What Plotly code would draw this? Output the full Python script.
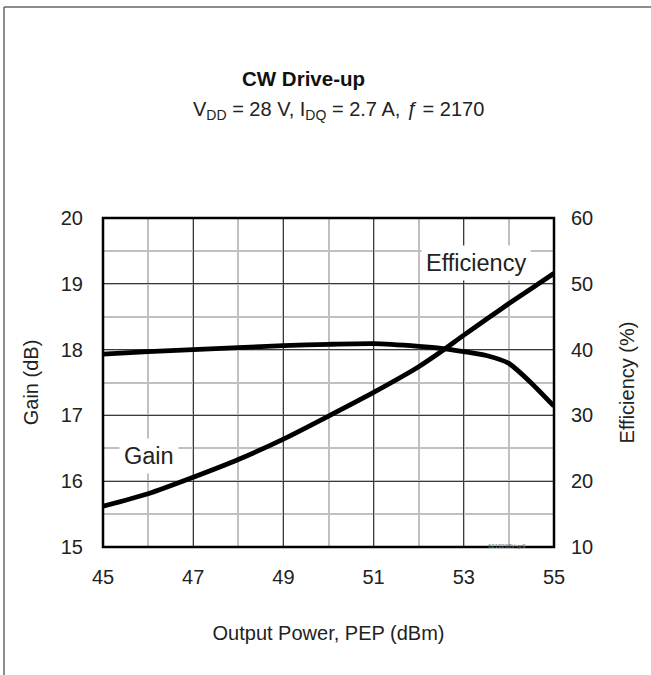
import plotly.graph_objects as go

# ---- data ----
pout_dbm = [45, 46, 47, 48, 49, 50, 51, 52, 52.5, 53, 53.5, 54, 54.5, 55]
gain_db = [17.93, 17.97, 18.0, 18.03, 18.06, 18.08, 18.09, 18.05, 18.02, 17.97,
           17.91, 17.79, 17.49, 17.14]
eff_pct = [16.2, 18.1, 20.6, 23.3, 26.4, 29.9, 33.5, 37.4, 39.7, 42.2,
           44.6, 47.0, 49.3, 51.6]

x_ticks = [45, 47, 49, 51, 53, 55]
gain_ticks = [15, 16, 17, 18, 19, 20]
eff_ticks = [10, 20, 30, 40, 50, 60]

FONT = "Liberation Sans, Arial, sans-serif"
DARK = "#3a3a3a"
LIGHT = "#c0c0c0"

# plot area geometry (pixels) used for placing outside decorations
L, R, T, B = 103, 97, 218, 128
W, H = 651, 675
PW, PH = W - L - R, H - T - B


def px(x):
    return (x - L) / PW


def py(y):
    return (H - B - y) / PH


fig = go.Figure()

fig.add_trace(go.Scatter(
    x=pout_dbm, y=gain_db, mode="lines", name="Gain",
    line=dict(color="black", width=4.8, shape="spline", smoothing=0.6),
    yaxis="y"
))
fig.add_trace(go.Scatter(
    x=pout_dbm, y=eff_pct, mode="lines", name="Efficiency",
    line=dict(color="black", width=4.8, shape="spline", smoothing=0.6),
    yaxis="y2"
))

fig.update_layout(
    width=W, height=H,
    margin=dict(l=L, r=R, t=T, b=B),
    plot_bgcolor="white", paper_bgcolor="white",
    showlegend=False,
    font=dict(family=FONT, color="#222", size=20),
    xaxis=dict(
        range=[45, 55], tickvals=x_ticks, showgrid=True, gridcolor=DARK, gridwidth=1,
        minor=dict(dtick=1, tick0=45, showgrid=True, gridcolor=LIGHT, gridwidth=1.5),
        zeroline=False, ticks="", ticklabelstandoff=16,
        title=dict(text="Output Power, PEP (dBm)", font=dict(size=20), standoff=38),
    ),
    yaxis=dict(
        range=[15, 20], tickvals=gain_ticks, showgrid=True, gridcolor=DARK, gridwidth=1,
        minor=dict(dtick=0.5, tick0=15, showgrid=True, gridcolor=LIGHT, gridwidth=1.5),
        zeroline=False, ticks="", ticklabelstandoff=19,
        title=dict(text="Gain (dB)", font=dict(size=20), standoff=16),
    ),
    yaxis2=dict(
        range=[10, 60], tickvals=eff_ticks, overlaying="y", side="right",
        showgrid=False, zeroline=False, ticks="", ticklabelstandoff=16,
        title=dict(text="Efficiency (%)", font=dict(size=20), standoff=27),
    ),
)

# plot frame
fig.add_shape(type="rect", xref="paper", yref="paper", x0=0, x1=1, y0=0, y1=1,
              line=dict(color="black", width=2.5), layer="above")

# outer border (left and top only, as in the source page)
fig.add_shape(type="line", xref="paper", yref="paper",
              x0=px(4), x1=px(4), y0=py(7), y1=py(H + 5),
              line=dict(color="#666", width=1.5))
fig.add_shape(type="line", xref="paper", yref="paper",
              x0=px(4), x1=px(W + 5), y0=py(7), y1=py(7),
              line=dict(color="#666", width=1.5))

# titles
fig.add_annotation(text="<b>CW Drive-up</b>", xref="paper", yref="paper",
                   x=px(303), y=py(79), yanchor="middle", showarrow=False,
                   font=dict(size=20.5, color="#111"))
fig.add_annotation(text="V<sub>DD</sub> = 28 V, I<sub>DQ</sub> = 2.7 A, <i>ƒ</i> = 2170",
                   xref="paper", yref="paper", x=px(338), y=py(111), yanchor="middle",
                   showarrow=False, font=dict(size=20, color="#222"))

# curve labels
fig.add_annotation(text="Efficiency", x=53.27, y=19.31, xref="x", yref="y",
                   showarrow=False, bgcolor="white", borderpad=4,
                   font=dict(size=23.5, color="#222"))
fig.add_annotation(text="Gain", x=46.03, y=16.39, xref="x", yref="y",
                   showarrow=False, bgcolor="white", borderpad=4,
                   font=dict(size=23.5, color="#222"))

# tiny figure id
fig.add_annotation(text="6213208V-gr9", xref="paper", yref="paper",
                   x=px(528), y=py(551), showarrow=False,
                   font=dict(size=6, color="#777"))

fig.write_html("out.html", config={"displayModeBar": False},
               post_script="document.body.style.margin='0px';")
